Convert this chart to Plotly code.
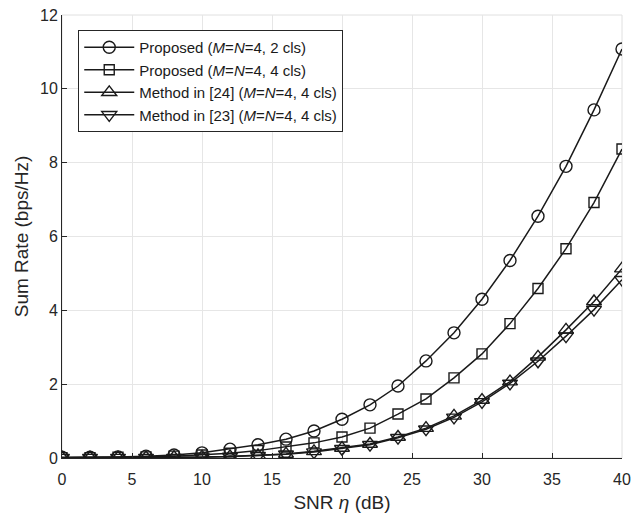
import plotly.graph_objects as go

snr = [0, 2, 4, 6, 8, 10, 12, 14, 16, 18, 20, 22, 24, 26, 28, 30, 32, 34, 36, 38, 40]
prop_2cls = [0.02, 0.02, 0.03, 0.05, 0.08, 0.14, 0.24, 0.36, 0.51, 0.73, 1.05, 1.44, 1.95, 2.63, 3.39, 4.30, 5.35, 6.55, 7.90, 9.43, 11.08]
prop_4cls = [0.01, 0.01, 0.02, 0.03, 0.05, 0.08, 0.13, 0.20, 0.30, 0.41, 0.57, 0.81, 1.19, 1.60, 2.17, 2.82, 3.64, 4.59, 5.67, 6.92, 8.37]
m24_4cls = [0.01, 0.01, 0.01, 0.01, 0.02, 0.03, 0.04, 0.07, 0.11, 0.18, 0.27, 0.38, 0.57, 0.81, 1.14, 1.57, 2.07, 2.74, 3.47, 4.24, 5.13]
m23_4cls = [0.01, 0.01, 0.01, 0.01, 0.01, 0.02, 0.04, 0.06, 0.10, 0.16, 0.25, 0.36, 0.55, 0.78, 1.10, 1.52, 2.02, 2.62, 3.30, 4.02, 4.83]

names = [
    "Proposed (<i>M</i>=<i>N</i>=4, 2 cls)",
    "Proposed (<i>M</i>=<i>N</i>=4, 4 cls)",
    "Method in [24] (<i>M</i>=<i>N</i>=4, 4 cls)",
    "Method in [23] (<i>M</i>=<i>N</i>=4, 4 cls)",
]
series = [prop_2cls, prop_4cls, m24_4cls, m23_4cls]
symbols = ["circle-open", "square-open", "triangle-up-open", "triangle-down-open"]
sizes = [12, 10, 13, 13]

FONT = "Liberation Sans, Arial, Helvetica, sans-serif"

fig = go.Figure()
for name, ys, sym, sz in zip(names, series, symbols, sizes):
    fig.add_trace(go.Scatter(
        x=snr, y=ys, name=name, mode="lines+markers",
        line=dict(color="#1a1a1a", width=1.5),
        marker=dict(symbol=sym, size=sz, color="#1a1a1a", line=dict(width=1.4, color="#1a1a1a")),
    ))

axis_common = dict(
    showgrid=True, gridcolor="#e6e6e6", gridwidth=1,
    zeroline=False, showline=True, linecolor="#262626", linewidth=1,
    ticks="inside", ticklen=5, tickcolor="#262626",
    tickfont=dict(size=16, color="#262626", family=FONT),
    mirror=False, automargin=False,
)

fig.update_xaxes(range=[0, 40], dtick=5, tick0=0, ticklabelstandoff=7,
                 title=dict(text="SNR <i>η</i> (dB)", font=dict(size=19, color="#262626", family=FONT), standoff=9),
                 **axis_common)
fig.update_yaxes(range=[0, 12], dtick=2, tick0=0,
                 title=dict(text="Sum Rate (bps/Hz)", font=dict(size=19, color="#262626", family=FONT), standoff=6),
                 **axis_common)

fig.add_shape(type="rect", xref="paper", yref="paper", x0=0, y0=0, x1=1, y1=1,
              line=dict(color="#e0e0e0", width=1), layer="below")

fig.update_layout(
    width=632, height=513,
    margin=dict(l=62, r=10, t=15, b=55, autoexpand=False),
    paper_bgcolor="white", plot_bgcolor="white",
    font=dict(family=FONT, color="#262626"),
    legend=dict(
        x=0.029, y=0.966, xanchor="left", yanchor="top",
        bgcolor="white", bordercolor="#262626", borderwidth=1,
        font=dict(size=15, color="#1a1a1a", family=FONT),
        tracegroupgap=0, itemwidth=50,
    ),
    showlegend=True,
)

fig.write_html("out.html", config={"displayModeBar": False},
               post_script="document.body.style.margin='0';document.body.style.overflow='hidden';")
